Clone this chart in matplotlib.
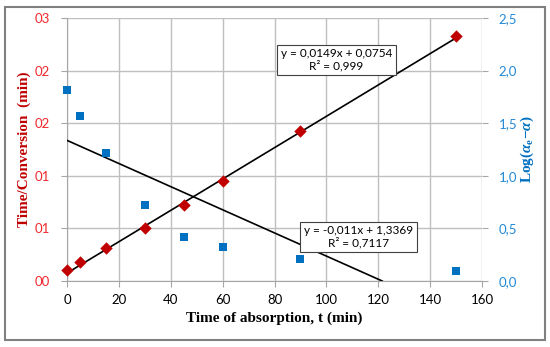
import matplotlib
matplotlib.use("Agg")
import matplotlib.pyplot as plt
from matplotlib.patches import Rectangle
import numpy as np

# Data
t_min = [0, 5, 15, 30, 45, 60, 90, 150]
time_conv = [0.105, 0.18, 0.31, 0.50, 0.72, 0.95, 1.43, 2.33]
log_ae_a = [1.82, 1.57, 1.22, 0.72, 0.42, 0.32, 0.21, 0.095]
fit1 = (0.0149, 0.0754)
fit2 = (-0.011, 1.3369)
x_ticks = [0, 20, 40, 60, 80, 100, 120, 140, 160]
y_ticks = [0, 0.5, 1.0, 1.5, 2.0, 2.5]
left_labels = ["00", "01", "01", "02", "02", "03"]
right_labels = ["0,0", "0,5", "1,0", "1,5", "2,0", "2,5"]

RED = "#C00000"
RED_TICK = "#F0282D"
BLUE = "#0070C0"
BLUE_TICK = "#2389D6"
GRID = "#BFBFBF"
TICKFONT = "Lato"

plt.rcParams['mathtext.fontset'] = 'custom'
plt.rcParams['mathtext.rm'] = 'Liberation Serif:bold'
plt.rcParams['mathtext.bf'] = 'Liberation Serif:bold'
plt.rcParams['mathtext.it'] = 'Liberation Serif:bold:italic'

fig = plt.figure(figsize=(5.5, 3.47), dpi=100)
ax = fig.add_axes([67/550, 1-281/347, (482-67)/550, (281-18)/347])
ax2 = ax.twinx()

ax.set_xlim(0, 160)
ax.set_ylim(0, 2.5)
ax2.set_ylim(0, 2.5)
ax.set_xticks(x_ticks)
ax.set_yticks(y_ticks)
ax.set_yticklabels(left_labels)
ax2.set_yticks(y_ticks)
ax2.set_yticklabels(right_labels)
ax.grid(True, color=GRID, lw=1.0)
ax.set_axisbelow(True)

for a in (ax, ax2):
    for s in a.spines.values():
        s.set_visible(False)
ax.spines['left'].set_visible(True)
ax.spines['left'].set_color("#A6A6A6")
ax.spines['bottom'].set_visible(True)
ax.spines['bottom'].set_color("#A6A6A6")

ax.tick_params(axis='x', length=4, color="#A6A6A6", labelsize=9.5, pad=5)
ax.tick_params(axis='y', length=4, color="#A6A6A6", labelsize=9.5, labelcolor=RED_TICK, pad=8)
ax2.tick_params(axis='y', length=4, color="#A6A6A6", labelsize=9.5, labelcolor=BLUE_TICK, pad=8)
for lab in ax.get_xticklabels() + ax.get_yticklabels() + ax2.get_yticklabels():
    lab.set_family(TICKFONT)

# Trendlines
x1 = np.array([0, t_min[-1]])
ax.plot(x1, fit1[0]*x1 + fit1[1], color="black", lw=1.2, zorder=3)
x2 = np.array([0, -fit2[1]/fit2[0]])
ax.plot(x2, fit2[0]*x2 + fit2[1], color="black", lw=1.2, zorder=3)

ax.scatter(t_min, time_conv, marker="D", s=40, color=RED, zorder=4, linewidths=0, clip_on=False)
ax2.scatter(t_min, log_ae_a, marker="s", s=36, color=BLUE, zorder=4, linewidths=0, clip_on=False)

ax.set_xlabel("Time of absorption, t (min)", family="Liberation Serif", weight="bold",
              fontsize=11, labelpad=4)
ax.set_ylabel("Time/Conversion  (min)", family="Liberation Serif", weight="bold",
              fontsize=11, color=RED, labelpad=3)
ax2.set_ylabel(r"$\mathrm{Log}(\alpha_{\mathrm{e}}\mathrm{-}\alpha)$",
               fontsize=11, color=BLUE, labelpad=1)

box = dict(boxstyle="square,pad=0.3", fc="white", ec="#404040", lw=0.8)
ax.text(336.5/550, 1-60/347, "y = 0,0149x + 0,0754\nR² = 0,999", transform=fig.transFigure,
        ha="center", va="center", fontsize=8.5, family=TICKFONT, bbox=box, linespacing=1.1, zorder=6)
ax.text(358.5/550, 1-237/347, "y = -0,011x + 1,3369\nR² = 0,7117", transform=fig.transFigure,
        ha="center", va="center", fontsize=8.5, family=TICKFONT, bbox=box, linespacing=1.1, zorder=6)

fig.patches.append(Rectangle((5/550, 7/347), 540/550, 333/347, transform=fig.transFigure,
                             fill=False, ec="#808080", lw=1.5))

fig.savefig("out.png", dpi=100)
